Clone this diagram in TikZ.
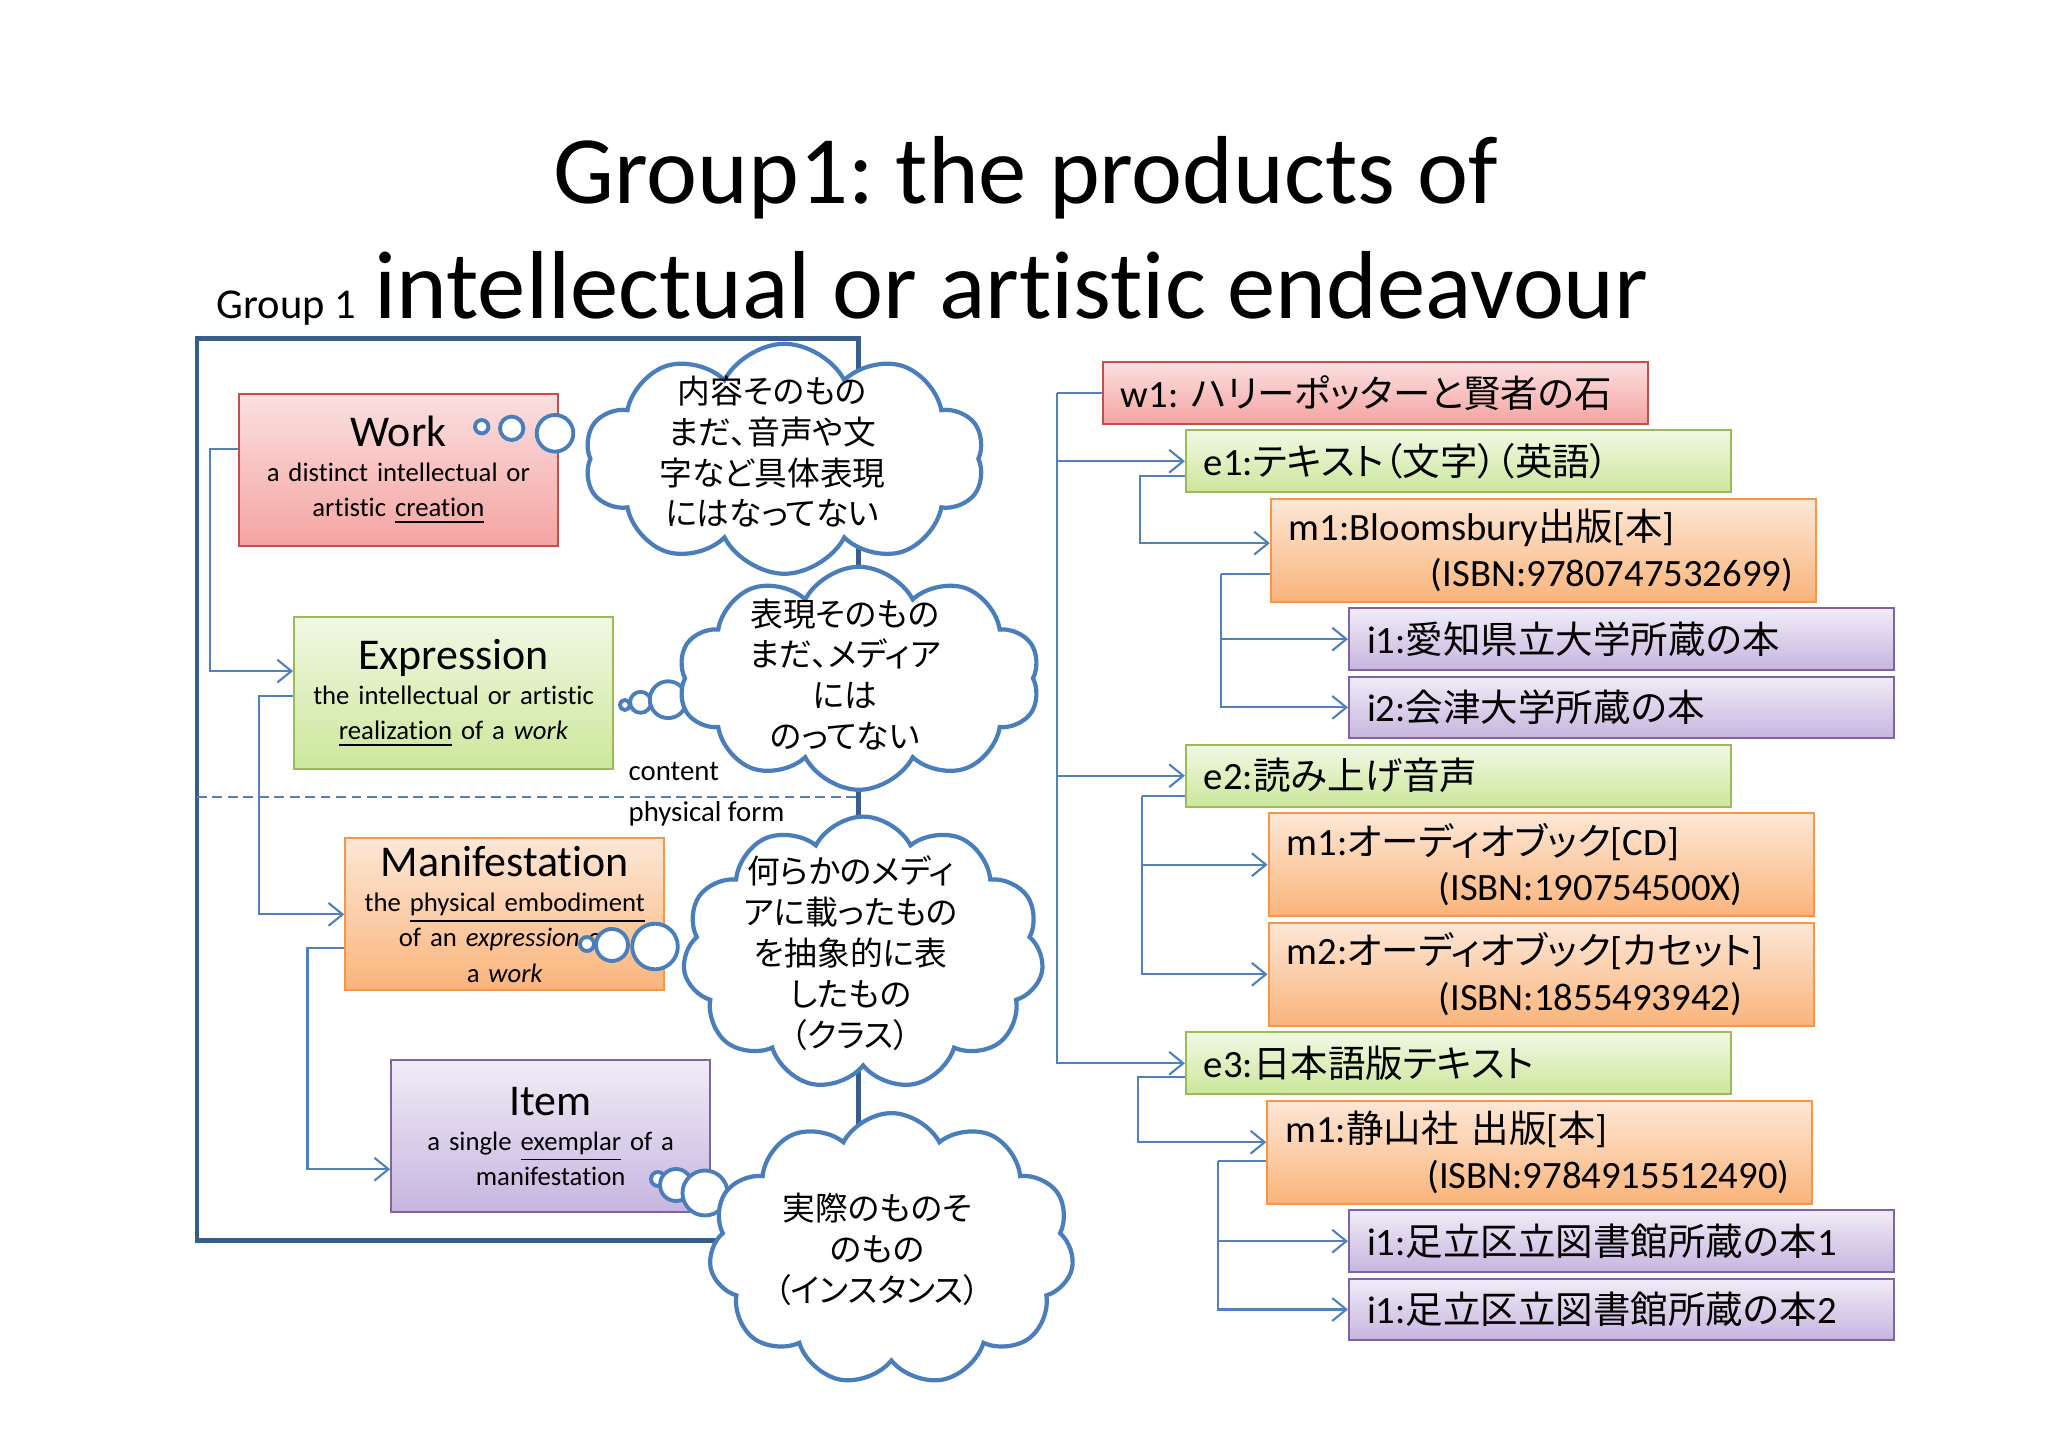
\documentclass[tikz,border=0pt]{standalone}
\usepackage{fontspec}
\setmainfont{Carlito}[Ligatures=NoCommon]
\newfontfamily\jp[Scale=0.97,RawFeature=+palt]{Noto Sans CJK JP}
\usepackage{tikz}
\usetikzlibrary{arrows.meta,positioning,shapes.symbols}
\frenchspacing

\definecolor{framecol}{HTML}{385D8A}
\definecolor{linkcol}{HTML}{4F81BD}
\definecolor{cloudcol}{HTML}{4A7EBB}
\definecolor{workline}{HTML}{C0504D}
\definecolor{worktop}{HTML}{FBE0E0}
\definecolor{workbot}{HTML}{F4A4A2}
\definecolor{exprline}{HTML}{9BBB59}
\definecolor{exprtop}{HTML}{F1F8E4}
\definecolor{exprbot}{HTML}{CCE79B}
\definecolor{maniline}{HTML}{F79646}
\definecolor{manitop}{HTML}{FDE7D6}
\definecolor{manibot}{HTML}{FAB47B}
\definecolor{itemline}{HTML}{8064A2}
\definecolor{itemtop}{HTML}{F0ECF7}
\definecolor{itembot}{HTML}{C6B5DF}

\begin{document}
\begin{tikzpicture}
    \tikzset{
      entitybox/.style={rectangle,line width=0.6pt,minimum width=3.19cm,minimum height=1.52cm,text width=3.1cm,align=center,inner sep=0pt,font=\fontsize{7.6}{10}\selectfont},
      recordbox/.style={rectangle,line width=0.6pt,minimum width=5.45cm,minimum height=0.617cm,text width=5.09cm,inner xsep=0.18cm,inner ysep=0pt,align=left,font=\fontsize{11}{13}\selectfont},
      tallbox/.style={recordbox,minimum height=1.03cm},
      workfill/.style={draw=workline,top color=worktop,bottom color=workbot},
      exprfill/.style={draw=exprline,top color=exprtop,bottom color=exprbot},
      manifill/.style={draw=maniline,top color=manitop,bottom color=manibot},
      itemfill/.style={draw=itemline,top color=itemtop,bottom color=itembot},
      bubble/.style={circle,draw=cloudcol,line width=1.1pt,fill=white,inner sep=0pt},
      thought/.style={cloud,cloud puffs=10,cloud puff arc=125,cloud ignores aspect,draw=cloudcol,line width=1.2pt,fill=white,inner sep=0pt},
      thoughttext/.style={align=center,inner sep=0pt,font=\jp\fontsize{9.6}{11.6}\selectfont},
      smalllabel/.style={anchor=base west,inner sep=0pt,font=\fontsize{8.2}{10}\selectfont},
      link/.style={draw=linkcol,line width=0.6pt},
      arrow/.style={link,-{Straight Barb[length=4pt,width=6.5pt]}}
    }
    \fill[white] (0,0) rectangle (20.48,14.48);
    \useasboundingbox (0,0) rectangle (20.48,14.48);

    % title
    \node[anchor=base,font=\fontsize{27.5}{30}\selectfont] (title1) at (10.257,12.447) {Group1: the products of};
    \node[anchor=base,font=\fontsize{27.5}{30}\selectfont] (title2) at (10.116,11.297) {intellectual or artistic endeavour};
    \node[anchor=base west,inner sep=0pt,font=\fontsize{12.1}{14}\selectfont] (grouplabel) at (2.16,11.297) {Group 1};

    % group 1 frame
    \draw[framecol,line width=1.3pt] (1.969,2.074) rectangle (8.583,11.093);
    \draw[linkcol,line width=0.6pt,dash pattern=on 2.8pt off 1.6pt] (1.969,6.506) -- (8.583,6.506);
    \node[smalllabel] (contentlbl) at (6.28,6.673) {content};
    \node[smalllabel] (physlbl) at (6.28,6.263) {physical form};

    \node[entitybox,workfill] (work) at (3.984,9.78) {{\fontsize{12.5}{10}\selectfont Work}\\ a distinct intellectual or\\ artistic \underline{creation}};
    \node[entitybox,exprfill] (expr) at (4.536,7.549) {{\fontsize{12.5}{10}\selectfont Expression}\\ the intellectual or artistic\\ \underline{realization} of a \textit{work}};
    \node[entitybox,manifill] (mani) at (5.048,5.336) {{\fontsize{12.5}{10}\selectfont Manifestation}\\ the \underline{physical embodiment}\\ of an \textit{expression} of\\ a \textit{work}};
    \node[entitybox,itemfill] (item) at (5.507,3.118) {{\fontsize{12.5}{10}\selectfont Item}\\ a single \underline{exemplar} of a\\ manifestation};

    \draw[arrow] ([yshift=0.21cm]work.west) -- ++(-0.275,0) |- ([yshift=0.22cm]expr.west);
    \draw[arrow] ([yshift=-0.03cm]expr.west) -- ++(-0.34,0) |- (mani.west);
    \draw[arrow] ([yshift=-0.34cm]mani.west) -- ++(-0.368,0) |- ([yshift=-0.33cm]item.west);

    % thought bubbles
    \foreach \bx/\by/\br [count=\i] in {4.817/10.213/0.067,5.117/10.197/0.117,5.55/10.147/0.183}
      \node[bubble,minimum size=\br*2cm] (wb\i) at (\bx,\by) {};
    \foreach \bx/\by/\br [count=\i] in {6.249/7.43/0.05,6.406/7.457/0.105,6.682/7.483/0.184}
      \node[bubble,minimum size=\br*2cm] (eb\i) at (\bx,\by) {};
    \foreach \bx/\by/\br [count=\i] in {5.87/5.04/0.07,6.12/5.03/0.16,6.55/5.015/0.228}
      \node[bubble,minimum size=\br*2cm] (mb\i) at (\bx,\by) {};
    \foreach \bx/\by/\br [count=\i] in {6.58/2.69/0.07,6.76/2.63/0.16,7.05/2.55/0.225}
      \node[bubble,minimum size=\br*2cm] (ib\i) at (\bx,\by) {};

    \node[thought,minimum width=4.0cm,minimum height=2.3cm,label={[thoughttext,xshift=-0.12cm,yshift=0.07cm]center:{内容そのもの\\まだ、音声や文\\字など具体表現\\にはなってない}}] (c1) at (7.844,9.892) {};
    \node[thought,minimum width=3.62cm,minimum height=2.23cm,label={[thoughttext,xshift=-0.14cm,yshift=0.04cm]center:{表現そのもの\\まだ、メディア\\には\\のってない}}] (c2) at (8.59,7.697) {};
    \node[thought,cloud puffs=11,minimum width=3.61cm,minimum height=2.73cm,label={[thoughttext,xshift=-0.125cm]center:{何らかのメディ\\アに載ったもの\\を抽象的に表\\したもの\\（クラス）}}] (c3) at (8.632,4.949) {};
    \node[thought,cloud puffs=11,minimum width=3.65cm,minimum height=2.72cm,label={[thoughttext,xshift=-0.14cm]center:{実際のものそ\\のもの\\（インスタンス）}}] (c4) at (8.914,1.989) {};

    % example records
    \node[recordbox,workfill,anchor=north west] (w1) at (11.017,10.87) {w1: {\jp ハリーポッターと賢者の石}};
    \node[recordbox,exprfill,below right=0.045cm and 0.832cm of w1.south west] (e1) {e1:{\jp テキスト（文字）（英語）}};
    \node[tallbox,manifill,below right=0.045cm and 0.85cm of e1.south west] (m1a) {m1:Bloomsbury{\jp 出版}[{\jp 本}]\\\hspace*{1.42cm}(ISBN:9780747532699)};
    \node[recordbox,itemfill,below right=0.045cm and 0.781cm of m1a.south west] (i1a) {i1:{\jp 愛知県立大学所蔵の本}};
    \node[recordbox,itemfill,below=0.045cm of i1a] (i2a) {i2:{\jp 会津大学所蔵の本}};
    \node[recordbox,exprfill,below right=0.045cm and -1.631cm of i2a.south west] (e2) {e2:{\jp 読み上げ音声}};
    \node[tallbox,manifill,below right=0.045cm and 0.827cm of e2.south west] (m1b) {m1:{\jp オーディオブック}[CD]\\\hspace*{1.52cm}(ISBN:190754500X)};
    \node[tallbox,manifill,below=0.045cm of m1b] (m2b) {m2:{\jp オーディオブック}[{\jp カセット}]\\\hspace*{1.52cm}(ISBN:1855493942)};
    \node[recordbox,exprfill,below right=0.045cm and -0.827cm of m2b.south west] (e3) {e3:{\jp 日本語版テキスト}};
    \node[tallbox,manifill,below right=0.045cm and 0.814cm of e3.south west] (m1c) {m1:{\jp 静山社} {\jp 出版}[{\jp 本}]\\\hspace*{1.42cm}(ISBN:9784915512490)};
    \node[recordbox,itemfill,below right=0.045cm and 0.817cm of m1c.south west] (i1c) {i1:{\jp 足立区立図書館所蔵の本}1};
    \node[recordbox,itemfill,below=0.045cm of i1c] (i1d) {i1:{\jp 足立区立図書館所蔵の本}2};

    \draw[link] (w1.west) -- ++(-0.446,0) coordinate (wroot);
    \draw[arrow] (wroot) |- (e1.west);
    \draw[arrow] (wroot) |- (e2.west);
    \draw[arrow] (wroot) |- (e3.west);
    \draw[arrow] ([yshift=-0.15cm]e1.west) -- ++(-0.446,0) |- ([yshift=0.07cm]m1a.west);
    \draw[link] ([yshift=-0.24cm]m1a.west) -- ++(-0.485,0) coordinate (m1aroot);
    \draw[arrow] (m1aroot) |- (i1a.west);
    \draw[arrow] (m1aroot) |- (i2a.west);
    \draw[link] ([yshift=-0.2cm]e2.west) -- ++(-0.433,0) coordinate (e2root);
    \draw[arrow] (e2root) |- (m1b.west);
    \draw[arrow] (e2root) |- (m2b.west);
    \draw[arrow] ([yshift=-0.14cm]e3.west) -- ++(-0.47,0) |- ([yshift=0.1cm]m1c.west);
    \draw[link] ([yshift=-0.09cm]m1c.west) -- ++(-0.486,0) coordinate (m1croot);
    \draw[arrow] (m1croot) |- (i1c.west);
    \draw[arrow] (m1croot) |- (i1d.west);

  \end{tikzpicture}
\end{document}
